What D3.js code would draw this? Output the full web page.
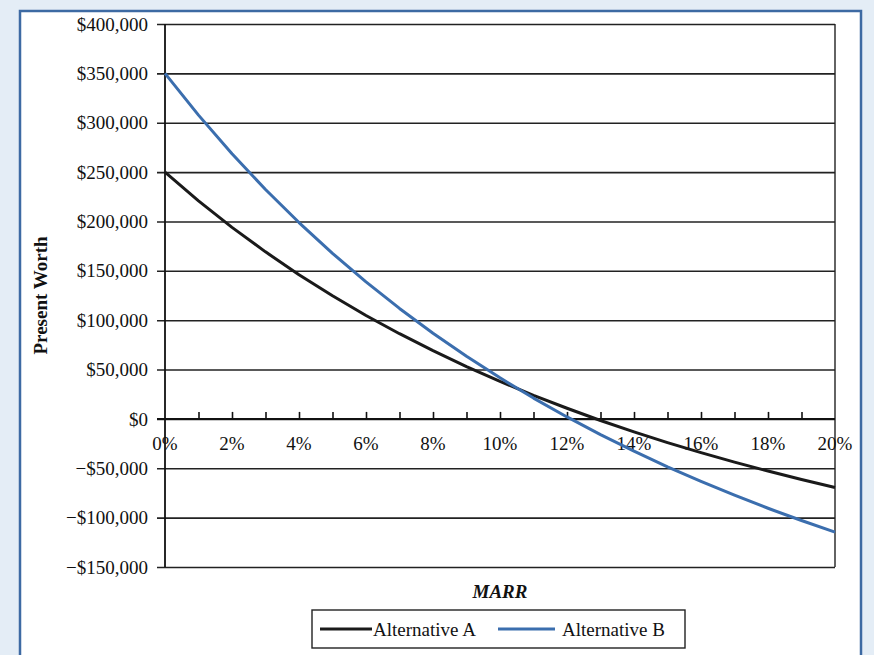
<!DOCTYPE html>
<html>
<head>
<meta charset="utf-8">
<script src="https://cdn.jsdelivr.net/npm/d3@7"></script>
<style>
  html, body { margin: 0; padding: 0; background: #e4edf6; }
  svg { display: block; }
  text { font-family: "Liberation Serif", "Times New Roman", serif; fill: #111; }
</style>
</head>
<body>
<svg id="chart" width="874" height="655"></svg>
<script>
// MARR values (percent) at which present worth is plotted
const marr = [0, 1, 2, 3, 4, 5, 6, 7, 8, 9, 10, 11, 12, 13, 14, 15, 16, 17, 18, 19, 20];

// Present worth of each alternative at the MARR values above
const alternativeA = [250000, 220900, 194000, 169200, 146100, 124700, 104800, 86300, 69100, 53000,
  38000, 23900, 10800, -1600, -13100, -24000, -34200, -43800, -52800, -61400, -69400];
const alternativeB = [350000, 307700, 268600, 232400, 198900, 167700, 138800, 111900, 86800, 63400,
  41600, 21100, 2000, -15900, -32700, -48500, -63300, -77300, -90500, -102900, -114600];

const seriesNames = ["Alternative A", "Alternative B"];
const seriesColors = ["#1a1a1a", "#3b6eae"];

// Axis ticks
const yTicks = [-150000, -100000, -50000, 0, 50000, 100000, 150000, 200000, 250000, 300000, 350000, 400000];
const xMinorTicks = [1, 2, 3, 4, 5, 6, 7, 8, 9, 10, 11, 12, 13, 14, 15, 16, 17, 18, 19];
const xLabelTicks = [0, 2, 4, 6, 8, 10, 12, 14, 16, 18, 20];

const svg = d3.select("#chart");

// Page frame
svg.append("rect").attr("x", 0).attr("y", 0).attr("width", 874).attr("height", 655).attr("fill", "#e4edf6");
svg.append("rect").attr("x", 20).attr("y", 11).attr("width", 841).attr("height", 660)
  .attr("fill", "#ffffff").attr("stroke", "#3d6aa3").attr("stroke-width", 2.5);

const plot = { left: 165, right: 835, top: 24, bottom: 567 };

const x = d3.scaleLinear().domain([0, 20]).range([plot.left, plot.right]);
const y = d3.scaleLinear().domain([-150000, 400000]).range([plot.bottom, plot.top]);

const fmtMoney = v => (v < 0 ? "\u2212$" : "$") + d3.format(",")(Math.abs(v));

// Horizontal gridlines with outward ticks and dollar labels
const yAxis = d3.axisLeft(y).tickValues(yTicks).tickFormat(fmtMoney)
  .tickSizeInner(-(plot.right - plot.left)).tickSizeOuter(0).tickPadding(17);
const gy = svg.append("g").attr("transform", `translate(${plot.left},0)`).call(yAxis);
gy.select(".domain").remove();
gy.selectAll(".tick line").attr("x1", -8).attr("stroke", "#222").attr("stroke-width", 1.6);
gy.selectAll(".tick text").attr("font-size", 19).attr("fill", "#111")
  .attr("font-family", "'Liberation Serif', 'Times New Roman', serif");

// Left and right borders of the plot
svg.append("line").attr("x1", plot.left).attr("x2", plot.left)
  .attr("y1", plot.top).attr("y2", plot.bottom).attr("stroke", "#111").attr("stroke-width", 1.8);
svg.append("line").attr("x1", plot.right).attr("x2", plot.right)
  .attr("y1", plot.top).attr("y2", plot.bottom).attr("stroke", "#222").attr("stroke-width", 1.4);

// MARR axis on the zero line: small ticks pointing up, labels below
const zeroY = y(0);
const xAxis = d3.axisTop(x).tickValues(xMinorTicks).tickFormat("").tickSizeInner(7).tickSizeOuter(0);
const gx = svg.append("g").attr("transform", `translate(0,${zeroY})`).call(xAxis);
gx.select(".domain").remove();
gx.selectAll(".tick line").attr("stroke", "#111").attr("stroke-width", 1.6);
svg.append("line").attr("x1", plot.left - 8).attr("x2", plot.right)
  .attr("y1", zeroY).attr("y2", zeroY).attr("stroke", "#111").attr("stroke-width", 2);

svg.append("g").selectAll("text").data(xLabelTicks).join("text")
  .attr("x", d => x(d)).attr("y", zeroY + 31)
  .attr("text-anchor", "middle").attr("font-size", 19)
  .text(d => d + "%");

// Present worth curves
const line = d3.line().x((d, i) => x(marr[i])).y(d => y(d));
[alternativeA, alternativeB].forEach((vals, k) => {
  svg.append("path").datum(vals)
    .attr("d", line)
    .attr("fill", "none")
    .attr("stroke", seriesColors[k])
    .attr("stroke-width", 3)
    .attr("stroke-linejoin", "round");
});

// Axis titles
svg.append("text")
  .attr("transform", `translate(47,${(plot.top + plot.bottom) / 2}) rotate(-90)`)
  .attr("text-anchor", "middle").attr("font-size", 19).attr("font-weight", "bold")
  .text("Present Worth");
svg.append("text")
  .attr("x", (plot.left + plot.right) / 2).attr("y", 598)
  .attr("text-anchor", "middle").attr("font-size", 19)
  .attr("font-weight", "bold").attr("font-style", "italic")
  .text("MARR");

// Legend
const legend = svg.append("g");
legend.append("rect").attr("x", 312).attr("y", 610).attr("width", 373).attr("height", 38)
  .attr("fill", "#fff").attr("stroke", "#222").attr("stroke-width", 1.4);
const legendItems = [{ x1: 320, x2: 372, tx: 373 }, { x1: 498, x2: 555, tx: 562 }];
legendItems.forEach((it, k) => {
  legend.append("line").attr("x1", it.x1).attr("x2", it.x2).attr("y1", 629).attr("y2", 629)
    .attr("stroke", seriesColors[k]).attr("stroke-width", 3);
  legend.append("text").attr("x", it.tx).attr("y", 636).attr("font-size", 19)
    .text(seriesNames[k]);
});
</script>
</body>
</html>
